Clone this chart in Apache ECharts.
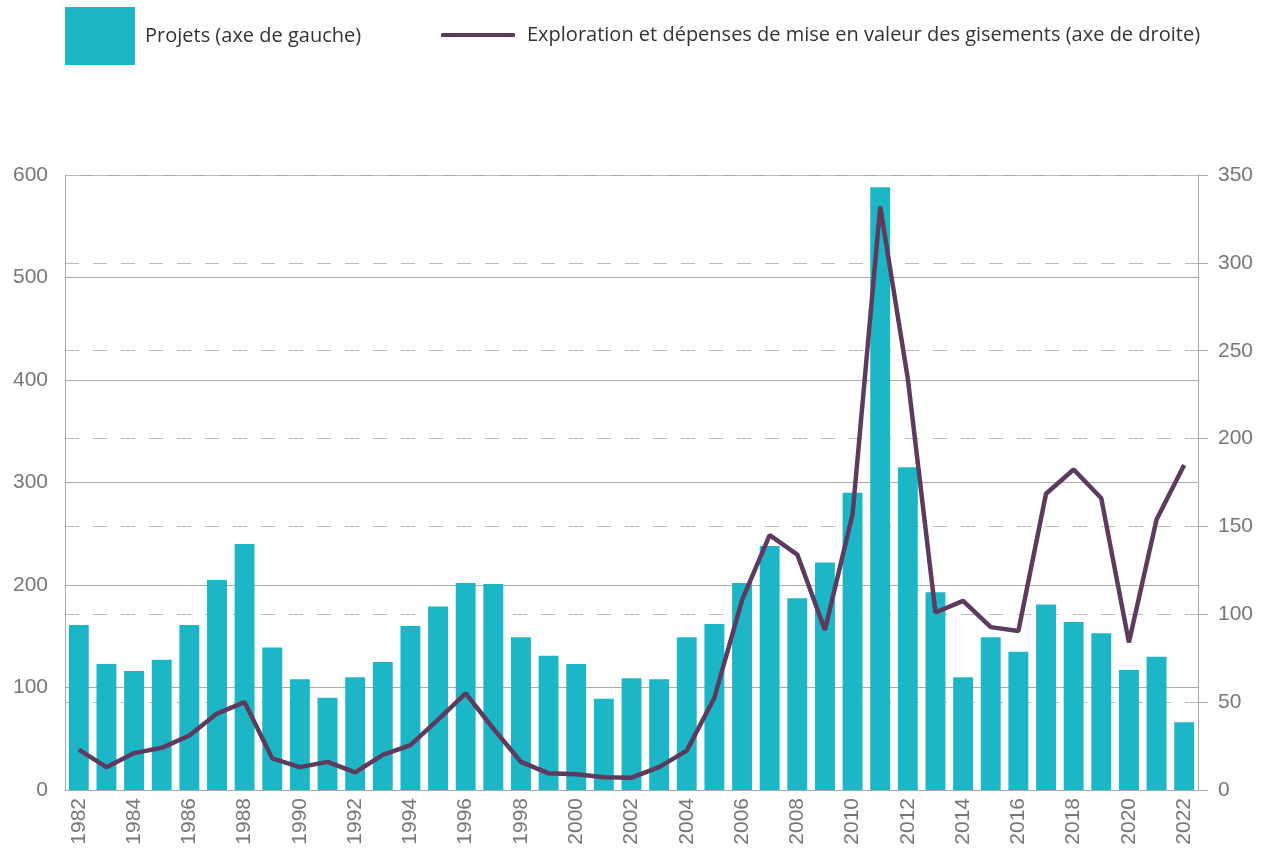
<!DOCTYPE html>
<html><head><meta charset="utf-8">
<script src="https://cdn.jsdelivr.net/npm/echarts@6/dist/echarts.min.js"></script>
<style>html,body{margin:0;padding:0;background:#fff}#c{width:1266px;height:854px}</style>
</head><body><div id="c"></div>
<script>
const years = [];
for (let y = 1982; y <= 2022; y++) years.push(String(y));
const projets = [161,123,116,127,161,205,240,139,108,90,110,125,160,179,202,201,149,131,123,89,109,108,149,162,202,238,187,222,290,588,315,193,110,149,135,181,164,153,117,130,66];
const depenses = [23,13,21,24,31,43.5,50,18,13,16,10,20,25.5,40,55,35,16,9.5,9,7.3,7,13,22.4,52.5,108,145,134,91,157,332,234,101,107.6,92.7,90.5,168.6,182.4,166,84,154,185];
const leftTicks = {min:0, max:600, interval:100};
const rightTicks = {min:0, max:350, interval:50};
const nameBar = 'Projets (axe de gauche)';
const nameLine = 'Exploration et dépenses de mise en valeur des gisements (axe de droite)';

const chart = echarts.init(document.getElementById('c'));
const legendFont = '"Open Sans", Lato, sans-serif';
const axisFont = '"Liberation Sans", Arial, sans-serif';
chart.setOption({
  animation:false,
  textStyle:{fontFamily:legendFont},
  legend:[
    {data:[{name:nameBar, icon:'rect'}], left:60, top:2, itemWidth:70, itemHeight:58, itemGap:10,
     textStyle:{fontSize:20, color:'#333', fontFamily:legendFont, padding:[0,0,0,5]}},
    {data:[{name:nameLine, icon:'roundRect'}], left:436, top:20, itemWidth:74, itemHeight:4, itemGap:10,
     textStyle:{fontSize:20, color:'#333', fontFamily:legendFont, padding:[0,0,0,7]}}
  ],
  grid:{left:65, right:68, top:175, bottom:64, containLabel:false},
  xAxis:{type:'category', data:years,
    axisLine:{lineStyle:{color:'#aaa', width:1}},
    axisTick:{show:false},
    axisLabel:{rotate:90, interval:1, color:'#777', fontSize:21, margin:8, fontFamily:axisFont}},
  yAxis:[
    {type:'value', min:leftTicks.min, max:leftTicks.max, interval:leftTicks.interval, position:'left',
     axisLine:{show:true, lineStyle:{color:'#aaa'}}, axisTick:{show:false},
     axisLabel:{color:'#777', fontSize:21, margin:17, fontFamily:axisFont},
     splitLine:{show:true, lineStyle:{color:'#aaa', width:1, type:'solid'}}},
    {type:'value', min:rightTicks.min, max:rightTicks.max, interval:rightTicks.interval, position:'right',
     axisLine:{show:true, lineStyle:{color:'#aaa'}},
     axisTick:{show:true, length:10, lineStyle:{color:'#aaa'}},
     axisLabel:{color:'#777', fontSize:21, margin:20, fontFamily:axisFont},
     splitLine:{show:true, lineStyle:{color:'#bbb', width:1, type:[14,14]}}}
  ],
  series:[
    {name:nameBar, type:'bar', yAxisIndex:0, data:projets, barCategoryGap:'28%',
     itemStyle:{color:'#1CB6C6'}},
    {name:nameLine, type:'line', yAxisIndex:1, data:depenses, symbol:'none',
     lineStyle:{color:'#5D3B5E', width:4.5}, itemStyle:{color:'#5D3B5E'}, z:5}
  ]
});
</script></body></html>
